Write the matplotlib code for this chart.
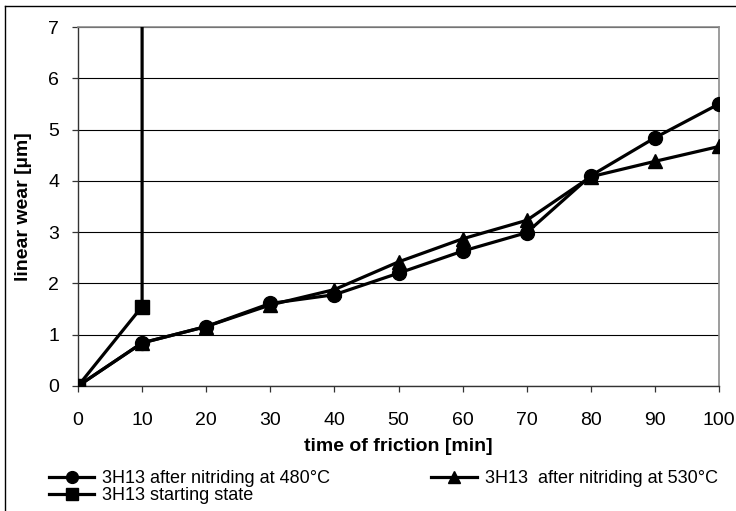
import matplotlib
matplotlib.use("Agg")
import matplotlib.pyplot as plt
from matplotlib.lines import Line2D

plt.rcParams['font.family'] = ['Liberation Sans', 'DejaVu Sans']

# friction time [min]
time_min = [0, 10, 20, 30, 40, 50, 60, 70, 80, 90, 100]
ticks_x = [0, 10, 20, 30, 40, 50, 60, 70, 80, 90, 100]
ticks_y = [0, 1, 2, 3, 4, 5, 6, 7]

# linear wear [um]
wear_480 = [0.0, 0.84, 1.16, 1.61, 1.78, 2.20, 2.63, 2.99, 4.10, 4.84, 5.50]
wear_530 = [0.0, 0.84, 1.16, 1.58, 1.88, 2.42, 2.87, 3.23, 4.08, 4.38, 4.67]

# starting state: the last reading runs off the top of the scale
time_start = [0, 10, 10]
wear_start = [0.0, 1.55, 9.0]

labels = ["3H13 after nitriding at 480\u00b0C",
          "3H13 starting state",
          "3H13  after nitriding at 530\u00b0C"]

W, H = 736, 511
fig = plt.figure(figsize=(W / 100, H / 100), dpi=100)
ax = fig.add_axes([78 / W, 1 - 386 / H, (719 - 78) / W, (386 - 27) / H])

lw = 2.3
ms = 10
ax.plot(time_min, wear_530, color='black', lw=lw, marker='^', ms=ms + 0.5, zorder=3)
ax.plot(time_min, wear_480, color='black', lw=lw, marker='o', ms=ms, zorder=4)
ax.plot(time_start, wear_start, color='black', lw=lw, marker='s', ms=ms - 0.5,
        markevery=[0, 1], zorder=5)

ax.set_xlim(0, 100)
ax.set_ylim(0, 7)
ax.set_xticks(ticks_x)
ax.set_yticks(ticks_y)
ax.tick_params(axis='both', direction='out', length=4.5, width=0.9, labelsize=14,
               color='#333333')
ax.tick_params(axis='y', pad=9)
ax.tick_params(axis='x', pad=14)
ax.yaxis.grid(True, color='black', lw=0.8)
ax.set_axisbelow(True)
for side in ['left', 'bottom']:
    ax.spines[side].set_color('#333333')
    ax.spines[side].set_linewidth(1.0)
for side in ['top', 'right']:
    ax.spines[side].set_color('#8c8c8c')
    ax.spines[side].set_linewidth(1.2)

ax.set_xlabel("time of friction [min]", fontsize=14, fontweight='bold', labelpad=7)
ax.set_ylabel("linear wear [\u00b5m]", fontsize=14, fontweight='bold', labelpad=12)

handles = [
    Line2D([], [], color='black', lw=lw, marker='o', ms=8.5),
    Line2D([], [], color='black', lw=lw, marker='s', ms=8),
    Line2D([], [], color='black', lw=lw, marker='^', ms=9),
]
fig.legend(handles, labels, ncol=2, loc='upper left',
           bbox_to_anchor=(49 / W, 1 - 470 / H), frameon=False,
           fontsize=13, handlelength=2.5, handletextpad=0.45,
           labelspacing=0.02, columnspacing=5.6, borderaxespad=0, borderpad=0)

# outer chart frame
fig.add_artist(Line2D([5 / W, 5 / W], [0, 1 - 6 / H], transform=fig.transFigure,
                      color='black', lw=1.0))
fig.add_artist(Line2D([5 / W, 1], [1 - 6 / H, 1 - 6 / H], transform=fig.transFigure,
                      color='black', lw=1.0))

fig.savefig("out.png", dpi=100)
